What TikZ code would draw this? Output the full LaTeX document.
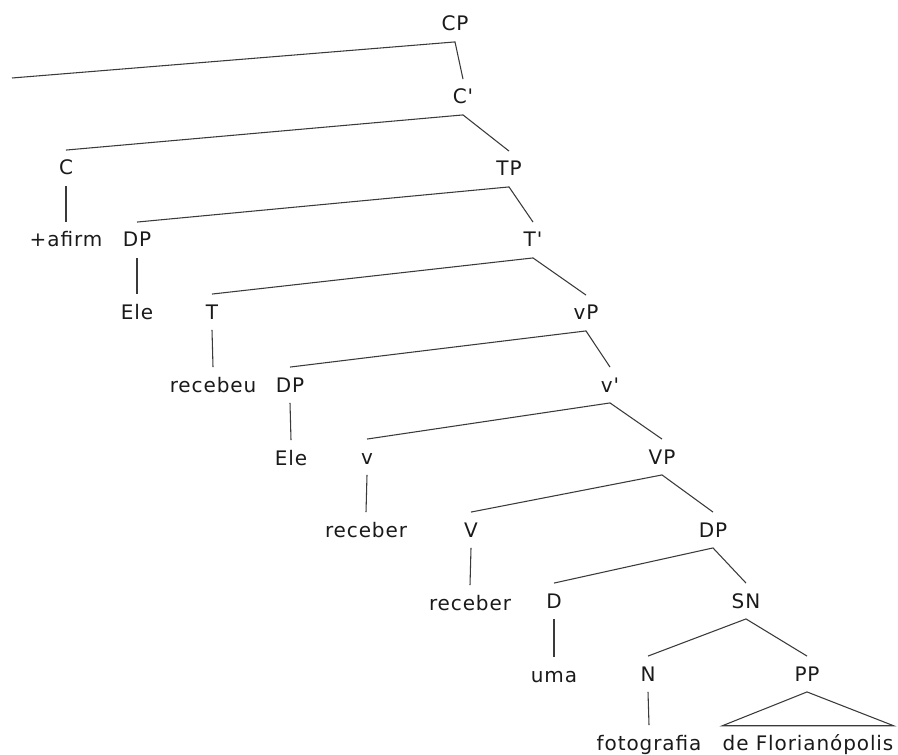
\documentclass[tikz,border=0pt]{standalone}
\usepackage{fontspec}
\setmainfont[LetterSpace=4.5,Ligatures=TeXOff]{DejaVu Sans}
\definecolor{linecol}{HTML}{3A3A3A}
\definecolor{txtcol}{HTML}{1A1A1A}
\begin{document}
\begin{tikzpicture}[x=0.75pt,y=-0.75pt,
  lab/.style={inner xsep=0pt,inner ysep=0pt,minimum height=26.5pt,text height=10.5pt,text depth=0pt,
    font=\fontsize{15pt}{17pt}\selectfont,text=txtcol,anchor=center},
  br/.style={draw=linecol,line width=0.8pt}]
\useasboundingbox (0,0) rectangle (898,755);
\node[lab] (CP) at (455,24) {CP};
\coordinate (spec) at (12,78);
\node[lab] (C1) at (463,97) {C'};
\node[lab] (C) at (66,168) {C};
\node[lab] (afirm) at (66,240) {+afirm};
\node[lab] (TP) at (509,169) {TP};
\node[lab] (DP1) at (137,240) {DP};
\node[lab] (Ele1) at (137,312) {Ele};
\node[lab] (T1) at (533,240) {T'};
\node[lab] (T) at (212,312) {T};
\node[lab] (recebeu) at (213,385) {recebeu};
\node[lab] (vP) at (586,313) {vP};
\node[lab] (DP2) at (290,385) {DP};
\node[lab] (Ele2) at (291,458) {Ele};
\node[lab] (v1) at (610,385) {v'};
\node[lab] (v) at (367,457) {v};
\node[lab] (rec1) at (366,530) {receber};
\node[lab] (VP) at (662,457) {VP};
\node[lab] (V) at (471,530) {V};
\node[lab] (rec2) at (470,603) {receber};
\node[lab] (DP3) at (713,530) {DP};
\node[lab] (D) at (554,601) {D};
\node[lab] (uma) at (554,675) {uma};
\node[lab] (SN) at (746,601) {SN};
\node[lab] (N) at (648,674) {N};
\node[lab] (foto) at (649,743) {fotografia};
\node[lab] (PP) at (807,674) {PP};
\node[lab] (flor) at (808,743) {de Florianópolis};

\draw[br] (spec) -- (CP.south) -- (C1.north);
\draw[br] (C.north) -- (C1.south) -- (TP.north);
\draw[br] (C.south) -- (afirm.north);
\draw[br] (DP1.north) -- (TP.south) -- (T1.north);
\draw[br] (DP1.south) -- (Ele1.north);
\draw[br] (T.north) -- (T1.south) -- (vP.north);
\draw[br] (T.south) -- (recebeu.north);
\draw[br] (DP2.north) -- (vP.south) -- (v1.north);
\draw[br] (DP2.south) -- (Ele2.north);
\draw[br] (v.north) -- (v1.south) -- (VP.north);
\draw[br] (v.south) -- (rec1.north);
\draw[br] (V.north) -- (VP.south) -- (DP3.north);
\draw[br] (V.south) -- (rec2.north);
\draw[br] (D.north) -- (DP3.south) -- (SN.north);
\draw[br] (D.south) -- (uma.north);
\draw[br] (N.north) -- (SN.south) -- (PP.north);
\draw[br] (N.south) -- (foto.north);
\draw[br] ([yshift=-0.5pt]flor.north west) -- (PP.south) -- ([yshift=-0.5pt]flor.north east) -- cycle;
\end{tikzpicture}
\end{document}
